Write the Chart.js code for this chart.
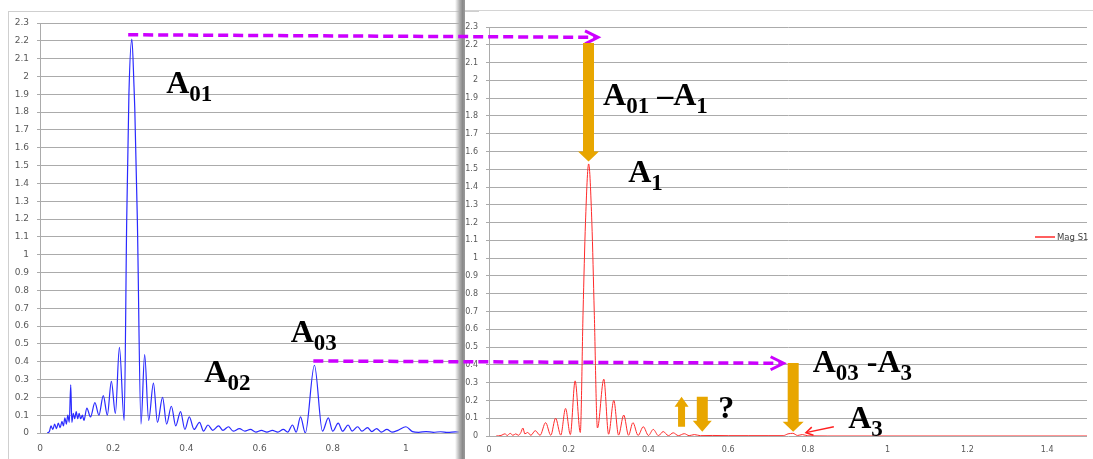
<!DOCTYPE html>
<html><head><meta charset="utf-8">
<script src="https://cdn.jsdelivr.net/npm/chart.js@4.4.1/dist/chart.umd.min.js"></script>
<style>
html,body{margin:0;padding:0;background:#fff;}
#wrap{position:relative;width:1093px;height:459px;overflow:hidden;background:#fff;}
#cL{position:absolute;left:0;top:0;}
#cR{position:absolute;left:465px;top:0;}
#frameL{position:absolute;left:8px;top:11px;width:470px;height:470px;border-left:1px solid #cfcfcf;border-top:1px solid #cfcfcf;}
#frameR{position:absolute;left:465px;top:10px;width:640px;height:1px;background:#d4d4d4;}
#shadow{position:absolute;left:455px;top:0;width:10px;height:459px;background:linear-gradient(to right,rgba(150,150,150,0),#b0b0b0 45%,#8a8a8a 75%,#9a9a9a);}
#ov{position:absolute;left:0;top:0;pointer-events:none;}
</style>
</head><body>
<div id="wrap">
<div id="frameL"></div>
<canvas id="cL" width="463" height="459"></canvas>
<canvas id="cR" width="628" height="459"></canvas>
<div id="frameR"></div>
<div id="shadow"></div>
<svg id="ov" width="1093" height="459" xmlns="http://www.w3.org/2000/svg"></svg>
</div>
<script>
// ---------- data ----------
const blueFreq = [0.020,0.026,0.030,0.035,0.040,0.045,0.050,0.055,0.060,0.064,0.068,0.072,0.076,0.080,0.084,0.087,0.091,0.095,0.099,0.103,0.107,0.111,0.116,0.120,0.128,0.138,0.150,0.161,0.173,0.184,0.195,0.206,0.217,0.230,0.237,0.243,0.251,0.257,0.259,0.266,0.276,0.286,0.297,0.310,0.321,0.335,0.346,0.359,0.371,0.384,0.396,0.408,0.421,0.436,0.447,0.459,0.472,0.488,0.500,0.515,0.528,0.545,0.560,0.575,0.590,0.605,0.620,0.635,0.650,0.665,0.677,0.690,0.700,0.712,0.725,0.750,0.772,0.788,0.800,0.815,0.827,0.842,0.853,0.868,0.880,0.895,0.907,0.920,0.933,0.948,0.962,0.978,1.000,1.018,1.035,1.055,1.075,1.095,1.115,1.135,1.160];
const blueMag  = [0,0.01,0.04,0.02,0.05,0.025,0.055,0.03,0.065,0.04,0.085,0.05,0.10,0.06,0.27,0.06,0.11,0.08,0.12,0.08,0.11,0.08,0.10,0.07,0.14,0.09,0.17,0.10,0.21,0.10,0.29,0.11,0.48,0.07,1.20,1.90,2.21,1.94,1.82,1.20,0.05,0.44,0.07,0.28,0.06,0.20,0.05,0.15,0.04,0.12,0.02,0.09,0.02,0.06,0.01,0.045,0.015,0.04,0.015,0.035,0.01,0.025,0.01,0.02,0.005,0.015,0.005,0.015,0.005,0.02,0.005,0.045,0.005,0.09,0.0,0.38,0.01,0.085,0.01,0.055,0.01,0.045,0.01,0.035,0.01,0.03,0.008,0.025,0.005,0.02,0.005,0.015,0.035,0.008,0.004,0.008,0.004,0.007,0.003,0.006,0.004];
const redFreq  = [0.018,0.030,0.040,0.046,0.053,0.060,0.067,0.074,0.080,0.085,0.090,0.097,0.105,0.116,0.128,0.142,0.155,0.167,0.180,0.192,0.204,0.216,0.229,0.236,0.242,0.250,0.258,0.264,0.272,0.288,0.300,0.313,0.325,0.338,0.350,0.361,0.374,0.387,0.400,0.412,0.425,0.437,0.450,0.462,0.475,0.490,0.502,0.515,0.530,0.560,0.600,0.650,0.700,0.738,0.750,0.762,0.774,0.786,0.800,0.850,1.500];
const redMag   = [0,0.003,0.012,0.003,0.015,0.004,0.012,0.004,0.02,0.045,0.012,0.02,0.004,0.03,0.004,0.075,0.004,0.10,0.005,0.155,0.008,0.31,0.02,0.70,1.20,1.53,1.20,0.70,0.045,0.32,0.01,0.20,0.005,0.118,0.004,0.075,0.003,0.052,0.003,0.037,0.002,0.025,0.002,0.018,0.002,0.013,0.002,0.008,0.002,0.003,0.002,0.002,0.002,0.002,0.012,0.015,0.003,0.008,0.001,0,0];
const seriesName = 'Mag S1';
const yMax = 2.3;
const leftXMax = 1.156;
const rightXMax = 1.5;

// ---------- charts ----------
const tickFmt = v => String(+(+v).toFixed(1));
function makeChart(id, fx, fy, color, lw, xMax, fs, yW, xH, pad, xPad) {
  return new Chart(document.getElementById(id), {
    type: 'line',
    data: { datasets: [{
      label: seriesName,
      data: fx.map((x, i) => ({ x: x, y: fy[i] })),
      borderColor: color, borderWidth: lw, pointRadius: 0,
      cubicInterpolationMode: 'monotone', fill: false
    }]},
    options: {
      responsive: false, animation: false, devicePixelRatio: 1, events: [],
      layout: { padding: pad },
      plugins: { legend: { display: false }, tooltip: { enabled: false } },
      scales: {
        x: { type: 'linear', min: 0, max: xMax,
             afterFit: s => { s.height = xH; },
             grid: { display: false, drawTicks: false }, border: { display: false },
             ticks: { stepSize: 0.2, includeBounds: false, padding: xPad, maxRotation: 0, autoSkip: false,
                      color: '#595959', font: { family: 'DejaVu Sans', size: fs }, callback: tickFmt } },
        y: { min: 0, max: yMax,
             afterFit: s => { s.width = yW; },
             grid: { color: '#ababab', lineWidth: 1, tickLength: 3 },
             border: { color: '#ababab' },
             ticks: { stepSize: 0.1, padding: 8, autoSkip: false,
                      color: '#595959', font: { family: 'DejaVu Sans', size: fs }, callback: tickFmt } }
      }
    }
  });
}
const chL = makeChart('cL', blueFreq, blueMag, '#2a2aff', 1.2, leftXMax, 9, 40, 26, {left:0, top:23, right:0, bottom:0}, 10);
const chR = makeChart('cR', redFreq, redMag, '#ff2a2a', 1, rightXMax, 8, 24, 23, {left:0, top:27, right:6, bottom:0}, 9);

// ---------- annotations (anchored in data coordinates) ----------
const offL = 0, offR = 465;
function P(side, x, y) {
  const c = side === 'L' ? chL : chR, o = side === 'L' ? offL : offR;
  return [o + c.scales.x.getPixelForValue(x), c.scales.y.getPixelForValue(y)];
}
const NS = 'http://www.w3.org/2000/svg';
const svg = document.getElementById('ov');
function el(tag, attrs, parent) {
  const e = document.createElementNS(NS, tag);
  for (const k in attrs) e.setAttribute(k, attrs[k]);
  (parent || svg).appendChild(e);
  return e;
}
// magenta dashed arrows
const magenta = [
  { from: ['L', 0.241, 2.234], to: ['R', 0.2735, 2.242] },
  { from: ['L', 0.747, 0.404], to: ['R', 0.739, 0.409] }
];
magenta.forEach(a => {
  const p1 = P(...a.from), p2 = P(...a.to);
  el('line', { x1: p1[0], y1: p1[1], x2: p2[0] - 3, y2: p2[1], stroke: '#cc00ff', 'stroke-width': 3.5, 'stroke-dasharray': '10,5' });
  el('polyline', { points: `${p2[0]-13},${p2[1]-6.5} ${p2[0]},${p2[1]} ${p2[0]-13},${p2[1]+6.5}`, fill: 'none', stroke: '#cc00ff', 'stroke-width': 3 });
});
// gold block arrows: [x, start y, tip y, shaft width, head width, head length]
const gold = [
  [0.2496, 2.210, 1.543, 11, 21, 10],
  [0.763, 0.411, 0.024, 11, 21, 10],
  [0.483, 0.052, 0.221, 7, 14, 10],
  [0.535, 0.221, 0.024, 11, 19, 11]
];
gold.forEach(g => {
  const a = P('R', g[0], g[1]), b = P('R', g[0], g[2]);
  const cx = a[0], y0 = a[1], y1 = b[1], w = g[3] / 2, hw = g[4] / 2, dir = y1 > y0 ? 1 : -1;
  const hb = y1 - dir * g[5];
  el('polygon', { points: `${cx-w},${y0} ${cx+w},${y0} ${cx+w},${hb} ${cx+hw},${hb} ${cx},${y1} ${cx-hw},${hb} ${cx-w},${hb}`, fill: '#e8a600' });
});
// small red pointer
(function () {
  const t = P('R', 0.865, 0.052), h = P('R', 0.795, 0.019);
  el('line', { x1: t[0], y1: t[1], x2: h[0], y2: h[1], stroke: '#ff2020', 'stroke-width': 1.5 });
  const ang = Math.atan2(t[1] - h[1], t[0] - h[0]), L = 8;
  const a1 = [h[0] + L * Math.cos(ang + 0.55), h[1] + L * Math.sin(ang + 0.55)];
  const a2 = [h[0] + L * Math.cos(ang - 0.55), h[1] + L * Math.sin(ang - 0.55)];
  el('polyline', { points: `${a1[0]},${a1[1]} ${h[0]},${h[1]} ${a2[0]},${a2[1]}`, fill: 'none', stroke: '#ff2020', 'stroke-width': 1.5 });
})();
// labels: side, x, y (baseline-left), parts [text, isSubscript]
const labels = [
  ['L', 0.345, 1.907, [['A',0],['01',1]]],
  ['L', 0.449, 0.284, [['A',0],['02',1]]],
  ['L', 0.685, 0.512, [['A',0],['03',1]]],
  ['R', 0.286, 1.862, [['A',0],['01',1],[' \u2013A',0],['1',1]]],
  ['R', 0.349, 1.430, [['A',0],['1',1]]],
  ['R', 0.575, 0.0996, [['?',0]]],
  ['R', 0.812, 0.362, [['A',0],['03',1],[' -A',0],['3',1]]],
  ['R', 0.901, 0.043, [['A',0],['3',1]]]
];
labels.forEach(l => {
  const p = P(l[0], l[1], l[2]);
  const t = el('text', { x: p[0], y: p[1], 'font-family': 'Liberation Serif, Times New Roman, serif', 'font-weight': 'bold', 'font-size': 32, fill: '#000' });
  let sub = false;
  l[3].forEach(part => {
    const attrs = { 'font-size': part[1] ? 23 : 32 };
    if (part[1] && !sub) attrs.dy = 8;
    if (!part[1] && sub) attrs.dy = -8;
    sub = !!part[1];
    const s = el('tspan', attrs, t);
    s.setAttribute('xml:space', 'preserve');
    s.textContent = part[0];
  });
  t.setAttribute('xml:space', 'preserve');
});
// legend
el('line', { x1: 1035, y1: 237, x2: 1055, y2: 237, stroke: '#ff2a2a', 'stroke-width': 1.5 });
const lg = el('text', { x: 1057, y: 240, 'font-family': 'DejaVu Sans', 'font-size': 8.5, fill: '#404040' });
lg.textContent = seriesName;
</script>
</body></html>
